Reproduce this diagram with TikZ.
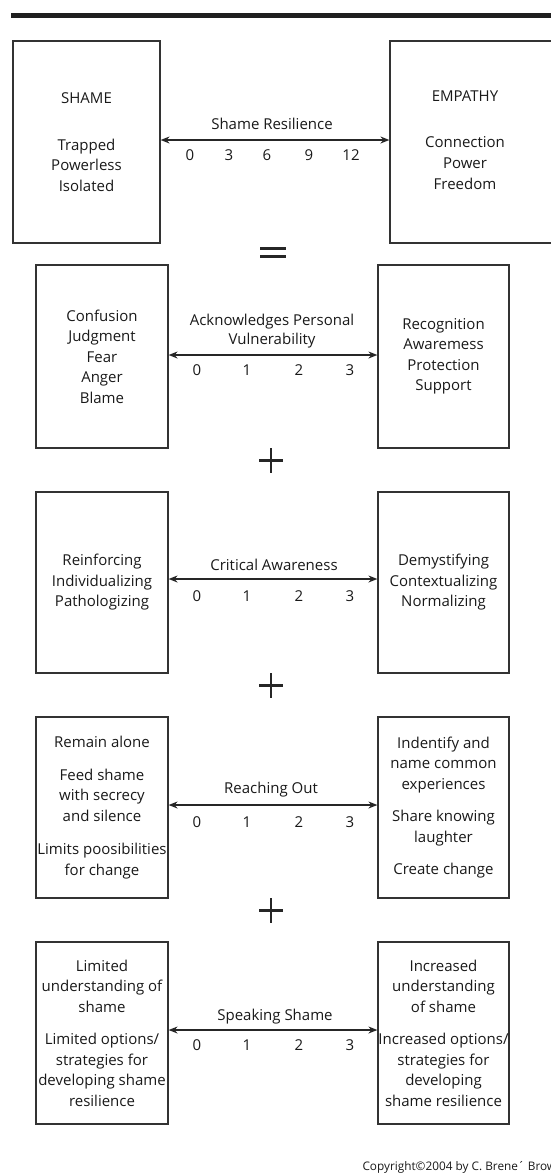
\documentclass[tikz,border=0pt]{standalone}
\usepackage{fontspec}
\setmainfont{Open Sans}
\usetikzlibrary{arrows.meta}
\tikzset{
  panel/.style={draw=black!80, line width=1.2pt, align=center, inner sep=0pt,
    text=black!90, font=\fontsize{15}{20.5}\selectfont},
  caption/.style={align=center, text=black!90, font=\fontsize{15}{19}\selectfont},
  tickno/.style={text=black!90, font=\fontsize{15}{18}\selectfont},
  span/.style={line width=1.4pt, black!85, {Stealth[length=9pt,width=7pt]}-{Stealth[length=9pt,width=7pt]}},
}
\begin{document}
\begin{tikzpicture}[x=1pt,y=-1pt]
\useasboundingbox (0,0) rectangle (550,1173);

% heading rule
\fill[black!88] (11,12.7) rectangle (560,18.3);

% Shame resilience
\node[panel, minimum width=147pt, minimum height=202pt] (shame) at (86.5,142)
  {SHAME\\[26pt]Trapped\\Powerless\\Isolated};
\node[panel, minimum width=200pt, minimum height=202pt] (empathy) at (490,142) {};
\node[caption, font=\fontsize{15}{21}\selectfont] (empathytext) at (465,140)
  {EMPATHY\\[25pt]Connection\\Power\\Freedom};
\draw[span] ([yshift=2pt]shame.east) -- ([yshift=2pt]empathy.west);
\node[caption] (resilience) at (272,124) {Shame Resilience};
\foreach \n/\x in {0/190,3/229,6/267,9/309,12/351}
  \node[tickno] (res\n) at (\x,155) {\n};

% equals
\draw[line width=3pt, black!85] (260,248.5) -- (286,248.5) (260,256.5) -- (286,256.5);

% Acknowledges personal vulnerability
\node[panel, minimum width=132pt, minimum height=183pt] (confusion) at (102,356.5)
  {Confusion\\Judgment\\Fear\\Anger\\Blame};
\node[panel, minimum width=131pt, minimum height=183pt] (recognition) at (443.5,356.5)
  {Recognition\\Awaremess\\Protection\\Support};
\draw[span] ([yshift=1.5pt]confusion.east) -- ([yshift=1.5pt]recognition.west);
\node[caption] (vulnerability) at (272,331) {Acknowledges Personal\\Vulnerability};
\foreach \n/\x in {0/197,1/247,2/299,3/350}
  \node[tickno] (ack\n) at (\x,370) {\n};

% Critical awareness
\node[panel, minimum width=132pt, minimum height=181pt] (reinforcing) at (102,582.5)
  {Reinforcing\\Individualizing\\Pathologizing};
\node[panel, minimum width=131pt, minimum height=181pt] (demystifying) at (443.5,582.5)
  {Demystifying\\Contextualizing\\Normalizing};
\draw[span] ([yshift=3.5pt]reinforcing.east) -- ([yshift=3.5pt]demystifying.west);
\node[caption] (critical) at (274,565) {Critical Awareness};
\foreach \n/\x in {0/197,1/247,2/299,3/350}
  \node[tickno] (crit\n) at (\x,596) {\n};

% Reaching out
\node[panel, minimum width=132pt, minimum height=181pt] (alone) at (102,807.5)
  {Remain alone\\[12pt]Feed shame\\with secrecy\\and silence\\[13pt]Limits poosibilities\\for change};
\node[panel, minimum width=131pt, minimum height=181pt] (common) at (443.5,807.5)
  {Indentify and\\name common\\experiences\\[12pt]Share knowing\\laughter\\[12pt]Create change};
\draw[span] ([yshift=2.5pt]alone.east) -- ([yshift=2.5pt]common.west);
\node[caption] (reaching) at (271,790) {Reaching Out};
\foreach \n/\x in {0/197,1/247,2/299,3/350}
  \node[tickno] (reach\n) at (\x,822) {\n};

% Speaking shame
\node[panel, minimum width=132pt, minimum height=182pt] (limited) at (102,1033)
  {Limited\\understanding of\\shame\\[12pt]Limited options/\\strategies for\\developing shame\\resilience};
\node[panel, minimum width=131pt, minimum height=182pt] (increased) at (443.5,1033)
  {Increased\\understanding\\of shame\\[12pt]Increased options/\\strategies for\\developing\\shame resilience};
\draw[span] ([yshift=3pt]limited.east) -- ([yshift=3pt]increased.west);
\node[caption] (speaking) at (275,1017) {Speaking Shame};
\foreach \n/\x in {0/197,1/247,2/299,3/350}
  \node[tickno] (speak\n) at (\x,1045) {\n};

% plus signs
\foreach \y in {460.5,685.5,910.5}
  \draw[line width=2.5pt, black!85] (259,\y) -- (283,\y) (271,\y-12.5) -- (271,\y+12.5);

% footer
\node[anchor=base west, text=black!90, font=\fontsize{11.8}{13}\selectfont] (copyright) at (359,1170)
  {Copyright©2004 by C. Brene´ Brown};
\end{tikzpicture}
\end{document}
